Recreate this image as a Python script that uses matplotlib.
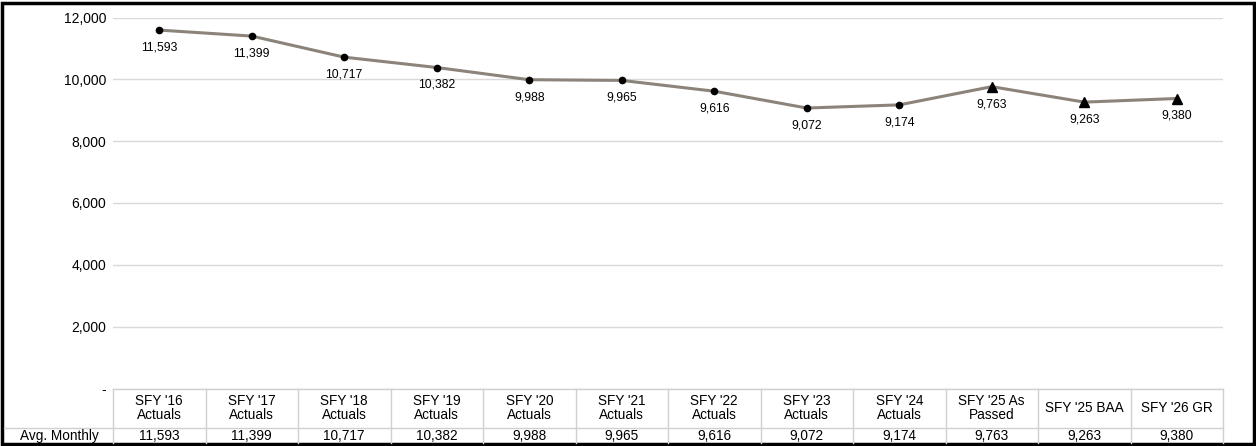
import numpy as np
import matplotlib.pyplot as plt
from matplotlib.patches import Rectangle

plt.rcParams['font.family'] = ['Liberation Sans', 'DejaVu Sans']

# Data
categories = ["SFY '16\nActuals", "SFY '17\nActuals", "SFY '18\nActuals", "SFY '19\nActuals",
              "SFY '20\nActuals", "SFY '21\nActuals", "SFY '22\nActuals", "SFY '23\nActuals",
              "SFY '24\nActuals", "SFY '25 As\nPassed", "SFY '25 BAA", "SFY '26 GR"]
avg_monthly = [11593, 11399, 10717, 10382, 9988, 9965, 9616, 9072, 9174, 9763, 9263, 9380]
n_actuals = 9
row_label = 'Avg. Monthly'

W, H = 1256, 446
fig = plt.figure(figsize=(W / 100, H / 100), dpi=100)

# plot area in pixels
x0, x1 = 113, 1223
y_top, y_bot = 17.5, 388.5
ax = fig.add_axes([x0 / W, 1 - y_bot / H, (x1 - x0) / W, (y_bot - y_top) / H])

n = len(categories)
x = np.arange(n)
line_col = '#8c837b'
ax.plot(x, avg_monthly, color=line_col, lw=2.2, zorder=2)
ax.plot(x[:n_actuals], avg_monthly[:n_actuals], 'o', color='black', ms=4.5, zorder=3)
ax.plot(x[n_actuals:], avg_monthly[n_actuals:], '^', color='black', ms=7, zorder=3)
for xi, v in zip(x, avg_monthly):
    ax.annotate(f'{v:,}', (xi, v), xytext=(0, -12.5), textcoords='offset points',
                ha='center', va='center', fontsize=8.8)

ax.set_xlim(-0.5, n - 0.5)
ax.set_ylim(0, 12000)
ax.set_yticks(np.arange(0, 12001, 2000))
ax.set_yticklabels(['-'] + [f'{t:,}' for t in range(2000, 12001, 2000)])
ax.tick_params(axis='y', length=0, pad=5, labelsize=10)
ax.set_xticks([])
ax.grid(axis='y', color='#d9d9d9', lw=1)
ax.set_axisbelow(True)
for s in ax.spines.values():
    s.set_visible(False)

# table + border overlay in pixel coords
ov = fig.add_axes([0, 0, 1, 1])
ov.set_xlim(0, W)
ov.set_ylim(H, 0)
ov.axis('off')
ov.patch.set_alpha(0)

grid_col = '#d0d0d0'
row1_top, row2_top, row2_bot = 388.5, 427.5, 443
cw = (x1 - x0) / n
ov.plot([x0, x1], [row1_top, row1_top], color=grid_col, lw=1)
ov.plot([4, x1], [row2_top, row2_top], color=grid_col, lw=1)
for i in range(n + 1):
    ov.plot([x0 + i * cw] * 2, [row1_top, row2_bot], color=grid_col, lw=1)
for i, (c, v) in enumerate(zip(categories, avg_monthly)):
    cx = x0 + (i + 0.5) * cw
    ov.text(cx, (row1_top + row2_top) / 2, c, ha='center', va='center', fontsize=9.8,
            linespacing=1.0)
    ov.text(cx, (row2_top + row2_bot) / 2 + 0.5, f'{v:,}', ha='center', va='center',
            fontsize=9.8)
ov.text((4 + x0) / 2 + 1, (row2_top + row2_bot) / 2 + 0.5, row_label, ha='center',
        va='center', fontsize=9.8)

ov.add_patch(Rectangle((2, 2.5), W - 4.5, H - 5, fill=False, ec='black', lw=2.5))

fig.savefig('out.png', dpi=100)
